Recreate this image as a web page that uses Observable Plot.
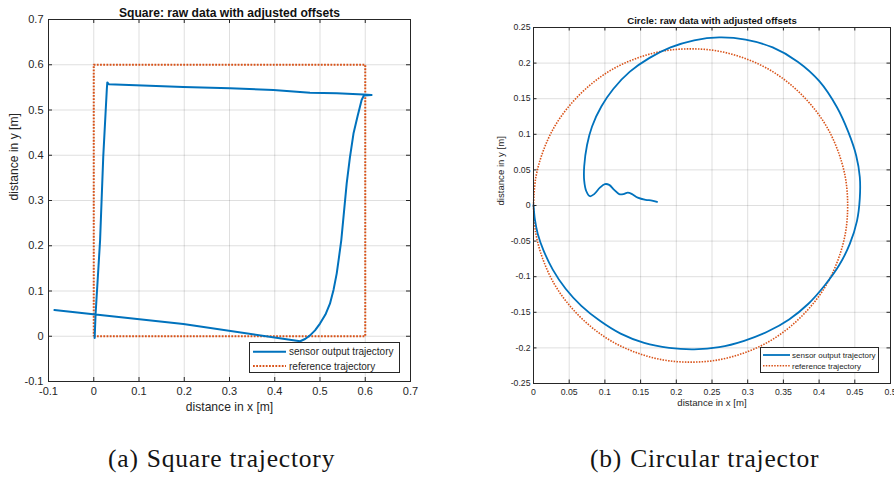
<!DOCTYPE html>
<html>
<head>
<meta charset="utf-8">
<script src="https://cdn.jsdelivr.net/npm/d3@7"></script>
<script src="https://cdn.jsdelivr.net/npm/@observablehq/plot@0.6"></script>
<style>
  body { margin: 0; background: #fff; }
  #page { position: relative; width: 894px; height: 480px; overflow: hidden; background: #fff; }
  .panel { position: absolute; top: 0; }
  .legend { position: absolute; }
  .caption { position: absolute; font-family: "Liberation Serif", "Times New Roman", serif; white-space: nowrap; color: #141414; line-height: 26px; }
</style>
</head>
<body>
<div id="page"></div>
<script>
// ---- Square run: measured trajectory and reference path (metres) ----
const squareSensorX = [0.002, 0.004, 0.014, 0.021, 0.029, 0.030, 0.033, 0.198, 0.301, 0.397, 0.478, 0.537, 0.596, 0.614, 0.597, 0.592, 0.583, 0.574, 0.566, 0.559, 0.553, 0.547, 0.542, 0.537, 0.530, 0.522, 0.512, 0.500, 0.489, 0.478, 0.467, 0.456, 0.198, 0.004, -0.087];
const squareSensorY = [-0.004, 0.048, 0.212, 0.397, 0.548, 0.561, 0.557, 0.551, 0.548, 0.544, 0.538, 0.537, 0.534, 0.533, 0.532, 0.522, 0.486, 0.448, 0.394, 0.338, 0.275, 0.212, 0.175, 0.139, 0.103, 0.072, 0.048, 0.028, 0.013, 0.002, -0.006, -0.011, 0.027, 0.048, 0.058];
const squareRefX = [0, 0.6, 0.6, 0, 0];
const squareRefY = [0, 0, 0.6, 0.6, 0];

// ---- Circle run: measured trajectory and reference path (metres) ----
const circleSensorX = [0.000, 0.002, 0.006, 0.014, 0.027, 0.045, 0.067, 0.093, 0.122, 0.155, 0.190, 0.225, 0.260, 0.295, 0.328, 0.358, 0.385, 0.408, 0.428, 0.443, 0.453, 0.457, 0.457, 0.452, 0.441, 0.425, 0.400, 0.370, 0.335, 0.297, 0.260, 0.225, 0.192, 0.162, 0.135, 0.112, 0.095, 0.082, 0.075, 0.071, 0.071, 0.074, 0.079, 0.085, 0.093, 0.100, 0.106, 0.113, 0.120, 0.126, 0.132, 0.138, 0.146, 0.157, 0.166, 0.173];
const circleSensorY = [0.001, -0.020, -0.040, -0.063, -0.090, -0.117, -0.141, -0.162, -0.180, -0.193, -0.200, -0.202, -0.199, -0.190, -0.177, -0.160, -0.138, -0.112, -0.084, -0.054, -0.022, 0.010, 0.040, 0.070, 0.103, 0.138, 0.175, 0.202, 0.222, 0.233, 0.236, 0.232, 0.222, 0.207, 0.188, 0.164, 0.139, 0.111, 0.085, 0.055, 0.035, 0.020, 0.013, 0.016, 0.025, 0.030, 0.029, 0.022, 0.016, 0.016, 0.018, 0.016, 0.011, 0.008, 0.007, 0.005];
const circleRefX = [0.000, 0.003, 0.013, 0.029, 0.051, 0.079, 0.110, 0.145, 0.182, 0.220, 0.258, 0.295, 0.330, 0.361, 0.389, 0.411, 0.427, 0.437, 0.440, 0.437, 0.427, 0.411, 0.389, 0.361, 0.330, 0.295, 0.258, 0.220, 0.182, 0.145, 0.110, 0.079, 0.051, 0.029, 0.013, 0.003, 0.000];
const circleRefY = [0.000, -0.038, -0.075, -0.110, -0.141, -0.169, -0.191, -0.207, -0.217, -0.220, -0.217, -0.207, -0.191, -0.169, -0.141, -0.110, -0.075, -0.038, 0.000, 0.038, 0.075, 0.110, 0.141, 0.169, 0.191, 0.207, 0.217, 0.220, 0.217, 0.207, 0.191, 0.169, 0.141, 0.110, 0.075, 0.038, 0.000];

// ---- Axis ticks ----
const squareTicks = [-0.1, 0, 0.1, 0.2, 0.3, 0.4, 0.5, 0.6, 0.7];
const circleXTicks = [0, 0.05, 0.1, 0.15, 0.2, 0.25, 0.3, 0.35, 0.4, 0.45, 0.5];
const circleYTicks = [-0.25, -0.2, -0.15, -0.1, -0.05, 0, 0.05, 0.1, 0.15, 0.2, 0.25];

// ---- Text ----
const squareTitle = "Square: raw data with adjusted offsets";
const circleTitle = "Circle: raw data with adjusted offsets";
const xLabel = "distance in x [m]";
const yLabel = "distance in y [m]";
const legendLabels = ["sensor output trajectory", "reference trajectory"];
const captions = [["(a)", "Square trajectory"], ["(b)", "Circular trajector"]];

const BLUE = "#0072BD", ORANGE = "#D95319", INK = "#262626";

const zip = (xs, ys) => xs.map((x, i) => ({x, y: ys[i]}));

function panel(o) {
  const [mt, mr, mb, ml] = o.margin;
  const innerW = o.width - ml - mr, innerH = o.height - mt - mb;
  const fmt = d => String(d);
  const tl = o.tickLen;
  return Plot.plot({
    width: o.width, height: o.height,
    marginTop: mt, marginRight: mr, marginBottom: mb, marginLeft: ml,
    x: {domain: o.xDomain},
    y: {domain: o.yDomain},
    style: {fontFamily: "'Liberation Sans', Arial, sans-serif", color: INK, background: "#fff", overflow: "hidden"},
    marks: [
      Plot.gridX(o.xTicks, {stroke: INK, strokeOpacity: 0.15}),
      Plot.gridY(o.yTicks, {stroke: INK, strokeOpacity: 0.15}),
      Plot.line(o.reference, {x: "x", y: "y", stroke: ORANGE, strokeWidth: o.refWidth, strokeDasharray: o.dash, strokeLinecap: "butt", curve: o.curve}),
      Plot.line(o.sensor, {x: "x", y: "y", stroke: BLUE, strokeWidth: o.lineWidth, curve: o.curve}),
      // inward tick marks on all four sides
      Plot.tickX(o.xTicks, {x: d => d, insetTop: innerH - tl, stroke: INK}),
      Plot.tickX(o.xTicks, {x: d => d, insetBottom: innerH - tl, stroke: INK}),
      Plot.tickY(o.yTicks, {y: d => d, insetRight: innerW - tl, stroke: INK}),
      Plot.tickY(o.yTicks, {y: d => d, insetLeft: innerW - tl, stroke: INK}),
      Plot.frame({stroke: INK}),
      Plot.axisX(o.xTicks, {tickSize: 0, tickPadding: o.xPad, tickFormat: fmt, fontSize: o.tickFont, label: null}),
      Plot.axisY(o.yTicks, {tickSize: 0, tickPadding: o.yPad, tickFormat: fmt, fontSize: o.tickFont, label: null}),
      Plot.text([xLabel], {text: d => d, frameAnchor: "bottom", dy: o.xLabelDy, fontSize: o.labelFont, fill: INK}),
      Plot.text([yLabel], {text: d => d, frameAnchor: "left", dx: o.yLabelDx, rotate: -90, fontSize: o.labelFont, fill: INK}),
      Plot.text([o.title], {text: d => d, frameAnchor: "top", dy: o.titleDy, fontSize: o.titleFont, fontWeight: "bold", fill: "#111"})
    ]
  });
}

function legend(o) {
  const svg = d3.create("svg").attr("class", "legend")
    .attr("width", o.w).attr("height", o.h)
    .style("left", o.left + "px").style("top", o.top + "px");
  svg.append("rect").attr("x", 0.5).attr("y", 0.5).attr("width", o.w - 1).attr("height", o.h - 1)
    .attr("fill", "#fff").attr("stroke", INK).attr("stroke-width", 1);
  const styles = [
    {stroke: BLUE, width: o.lineWidth, dash: null},
    {stroke: ORANGE, width: o.refWidth, dash: o.dash}
  ];
  legendLabels.forEach((label, i) => {
    const y = o.rows[i];
    svg.append("line").attr("x1", o.x0).attr("x2", o.x1).attr("y1", y).attr("y2", y)
      .attr("stroke", styles[i].stroke).attr("stroke-width", styles[i].width)
      .attr("stroke-dasharray", styles[i].dash).attr("stroke-linecap", "butt");
    svg.append("text").attr("x", o.tx).attr("y", y).attr("dy", "0.35em")
      .attr("font-family", "'Liberation Sans', Arial, sans-serif").attr("font-size", o.font)
      .attr("fill", INK).text(label);
  });
  return svg.node();
}

function caption(parts, left, top, gap) {
  const div = document.createElement("div");
  div.className = "caption";
  div.style.left = left + "px";
  div.style.top = top + "px";
  div.style.fontSize = "25.5px";
  div.style.letterSpacing = "0.8px";
  const a = document.createElement("span");
  a.textContent = parts[0];
  a.style.marginRight = gap + "px";
  const b = document.createElement("span");
  b.textContent = parts[1];
  div.append(a, b);
  return div;
}

const page = document.getElementById("page");

const left = panel({
  width: 447, height: 420, margin: [19, 37, 39, 48],
  xDomain: [-0.1, 0.7], yDomain: [-0.1, 0.7],
  xTicks: squareTicks, yTicks: squareTicks,
  sensor: zip(squareSensorX, squareSensorY), reference: zip(squareRefX, squareRefY),
  curve: "linear", lineWidth: 2, refWidth: 2, dash: "1.8,1.4",
  tickLen: 4, tickFont: 11, labelFont: 12.1, titleFont: 12.1,
  xPad: 6, yPad: 5, xLabelDy: 29, yLabelDx: -34, titleDy: -11.5, title: squareTitle
});
left.classList.add("panel");
left.style.left = "0px";
page.append(left);

const right = panel({
  width: 447, height: 420, margin: [27, 4, 37, 86],
  xDomain: [0, 0.5], yDomain: [-0.25, 0.25],
  xTicks: circleXTicks, yTicks: circleYTicks,
  sensor: zip(circleSensorX, circleSensorY), reference: zip(circleRefX, circleRefY),
  curve: "catmull-rom", lineWidth: 1.8, refWidth: 1.6, dash: "1.5,1.3",
  tickLen: 3.5, tickFont: 8.7, labelFont: 9.6, titleFont: 9.6,
  xPad: 5, yPad: 3, xLabelDy: 22, yLabelDx: -33, titleDy: -10.5, title: circleTitle
});
right.classList.add("panel");
right.style.left = "447px";
page.append(right);

page.append(legend({left: 249, top: 342, w: 151, h: 31, rows: [9.7, 24], x0: 4, x1: 37, tx: 40, font: 10, lineWidth: 2, refWidth: 2, dash: "1.8,1.4"}));
page.append(legend({left: 760, top: 347, w: 119, h: 26, rows: [8, 18.7], x0: 3, x1: 30, tx: 32, font: 8, lineWidth: 1.8, refWidth: 1.6, dash: "1.5,1.3"}));

page.append(caption(captions[0], 108, 446, 8));
page.append(caption(captions[1], 590, 446, 8));
</script>
</body>
</html>
